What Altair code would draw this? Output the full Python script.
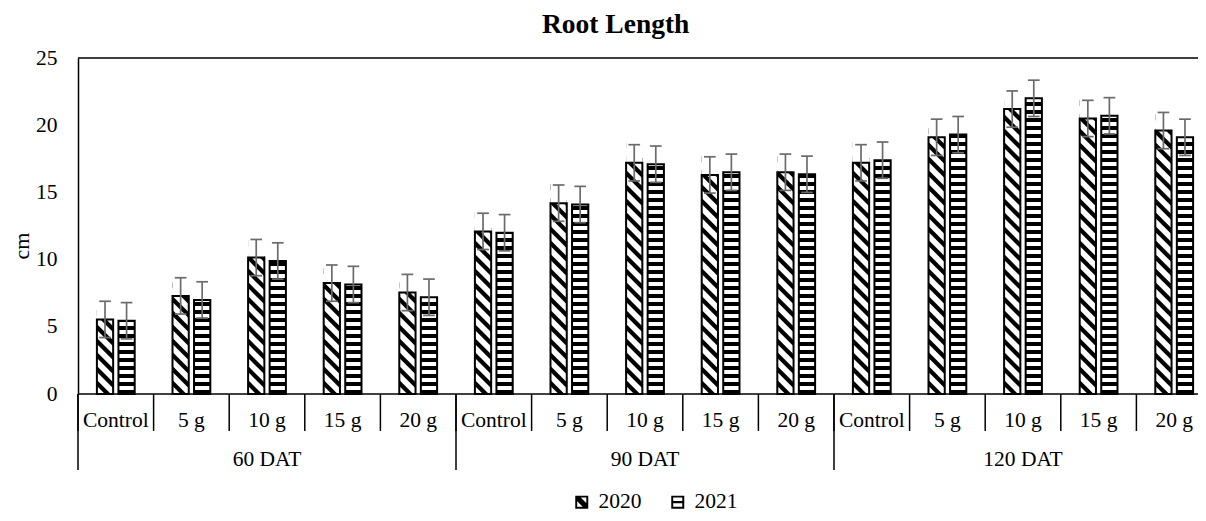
import altair as alt
import pandas as pd

# ---------------- data ----------------
periods = ["60 DAT", "90 DAT", "120 DAT"]
treatments = ["Control", "5 g", "10 g", "15 g", "20 g"]
years = ["2020", "2021"]
root_2020 = [5.55, 7.3, 10.15, 8.25, 7.55, 12.1, 14.2, 17.2, 16.3, 16.5, 17.2, 19.1, 21.2, 20.5, 19.6]
root_2021 = [5.45, 7.0, 9.9, 8.15, 7.2, 12.0, 14.1, 17.1, 16.5, 16.35, 17.4, 19.3, 22.0, 20.7, 19.1]
err_2020 = [1.35, 1.35, 1.35, 1.35, 1.35, 1.35, 1.35, 1.35, 1.35, 1.35, 1.35, 1.35, 1.35, 1.35, 1.35]
err_2021 = [1.35, 1.35, 1.35, 1.35, 1.35, 1.35, 1.35, 1.35, 1.35, 1.35, 1.35, 1.35, 1.35, 1.35, 1.35]
y_ticks = [0, 5, 10, 15, 20, 25]
chart_title = "Root Length"
y_title = "cm"

rows = []
for p_i, p in enumerate(periods):
    for t_i, t in enumerate(treatments):
        g = p_i * len(treatments) + t_i
        for yr, vals, errs in ((years[0], root_2020, err_2020), (years[1], root_2021, err_2021)):
            rows.append(dict(idx=g, period=p, treatment=t, year=yr, value=vals[g], err=errs[g]))
df = pd.DataFrame(rows)

# ---------------- layout / style ----------------
FONT = "Liberation Serif"
W, H = 1120, 336          # visible plot area (the last group runs to the page edge)
SX = 75.6                 # pixels per category group
XMAX = W / SX
YMAX = y_ticks[-1]
SY = H / YMAX
BAR_W = 0.215
OFF_A, OFF_B = 0.25, 0.535
H_PER, H_TH = 8 / SY, 4 / SY
D_PER, D_TH = 14 / SY, 6 / SY
D_DROP = BAR_W * SX / SY
CAP = 5.85 / SX
EC = "#6b6b6b"

xscale = alt.Scale(domain=[0, XMAX], nice=False, zero=False)
yscale = alt.Scale(domain=[0, YMAX], nice=False)
yaxis = alt.Axis(values=y_ticks, title=None, ticks=False, domain=True, domainColor="black",
                 domainWidth=1.5, grid=False,
                 labelFont=FONT, labelFontSize=21.5, labelColor="black", labelPadding=21)


def X(f):
    return alt.X(f"{f}:Q", scale=xscale, axis=None)


def Y(f):
    return alt.Y(f"{f}:Q", scale=yscale, axis=yaxis)


base = (
    alt.Chart(df)
    .transform_calculate(xa=f"datum.idx + (datum.year == '{years[0]}' ? {OFF_A} : {OFF_B})")
    .transform_calculate(xb=f"datum.xa + {BAR_W}")
    .transform_calculate(xc=f"datum.xa + {BAR_W / 2}")
    .transform_calculate(zero="0")
)

# horizontal stripes (2021)
hstripes = (
    base.transform_filter(f"datum.year == '{years[1]}'")
    .transform_calculate(ss=f"sequence(0, datum.value, {H_PER})")
    .transform_flatten(["ss"], as_=["s"])
    .transform_calculate(s2=f"min(datum.s + {H_TH}, datum.value)")
    .mark_rect(color="black")
    .encode(x=X("xa"), x2="xb:Q", y=Y("s"), y2="s2:Q")
)

# diagonal stripes (2020)
dstripes = (
    base.transform_filter(f"datum.year == '{years[0]}'")
    .transform_calculate(tops=f"sequence(0, datum.value + {D_DROP + D_TH}, {D_PER})")
    .transform_flatten(["tops"], as_=["top"])
    .transform_calculate(ends="[0, 1]")
    .transform_flatten(["ends"], as_=["end"])
    .transform_calculate(px="datum.end == 0 ? datum.xa : datum.xb")
    .transform_calculate(py=f"datum.top - datum.end * {D_DROP}")
    .transform_calculate(py2=f"datum.py - {D_TH}")
    .transform_calculate(sid="datum.idx + '_' + datum.top")
    .mark_area(color="black", clip=True, orient="vertical")
    .encode(x=X("px"), y=Y("py"), y2="py2:Q", detail="sid:N")
)

cover = (
    base.transform_filter(f"datum.year == '{years[0]}'")
    .transform_calculate(ctop=f"datum.value + {D_DROP + D_TH + 0.05}")
    .mark_rect(color="white")
    .encode(x=X("xa"), x2="xb:Q", y=Y("value"), y2="ctop:Q")
)

outline = (
    base.mark_rect(fill="transparent", stroke="black", strokeWidth=2)
    .encode(x=X("xa"), x2="xb:Q", y=Y("value"), y2="zero:Q")
)

ebar = (
    base.transform_calculate(lo="datum.value - datum.err", hi="datum.value + datum.err")
    .mark_rule(color=EC, strokeWidth=1.7)
    .encode(x=X("xc"), y=Y("lo"), y2="hi:Q")
)

caps = (
    base.transform_calculate(lo="datum.value - datum.err", hi="datum.value + datum.err")
    .transform_fold(["lo", "hi"], as_=["kind", "cy"])
    .transform_calculate(cx0=f"datum.xc - {CAP}", cx1=f"datum.xc + {CAP}")
    .mark_rule(color=EC, strokeWidth=1.7)
    .encode(x=X("cx0"), x2="cx1:Q", y=Y("cy"))
)

# frame lines (bottom = x axis line, top = plot border)
frame = (
    alt.Chart(pd.DataFrame({"v": [y_ticks[0], y_ticks[-1]]}))
    .mark_rule(color="black", strokeWidth=1.5)
    .encode(y=Y("v"))
)

first = base.transform_filter(f"datum.year == '{years[0]}'")
starts = base.transform_filter(f"datum.year == '{years[0]}' && datum.treatment == '{treatments[0]}'")

div_short = first.mark_rule(color="black", strokeWidth=1.5).encode(
    x=X("idx"), y=alt.value(H), y2=alt.value(H + 37))
div_long = starts.mark_rule(color="black", strokeWidth=1.5).encode(
    x=X("idx"), y=alt.value(H), y2=alt.value(H + 76))

lab_t = (
    first.transform_calculate(lx="datum.idx + 0.5")
    .mark_text(font=FONT, fontSize=21.5, color="black", baseline="alphabetic", align="center")
    .encode(x=X("lx"), y=alt.value(H + 33), text="treatment:N")
)
lab_p = (
    starts.transform_calculate(lx=f"datum.idx + {len(treatments) / 2}")
    .mark_text(font=FONT, fontSize=21.5, color="black", baseline="alphabetic", align="center")
    .encode(x=X("lx"), y=alt.value(H + 72), text="period:N")
)

title_t = (
    alt.Chart(pd.DataFrame({"t": [chart_title]}))
    .mark_text(font=FONT, fontSize=27.5, fontWeight="bold", color="black",
               baseline="alphabetic", align="center")
    .encode(text="t:N", x=alt.value(537.7), y=alt.value(-25))
)
ytitle_t = (
    alt.Chart(pd.DataFrame({"t": [y_title]}))
    .mark_text(font=FONT, fontSize=22, color="black", baseline="alphabetic", align="center", angle=270)
    .encode(text="t:N", x=alt.value(-49), y=alt.value(188))
)

P2020 = ("M-1,-1H1V1H-1Z M-0.7,-0.7V0.7H0.7V-0.7Z "
         "M-0.7,-0.7H-0.15L0.7,0.15V0.7H0.15L-0.7,-0.15Z")
P2021 = ("M-1,-1H1V1H-1Z M-0.7,-0.7V0.7H0.7V-0.7Z "
         "M-0.7,-0.17H0.7V0.17H-0.7Z")

legend_layer = (
    alt.Chart(df)
    .transform_filter("false")
    .mark_point(filled=True, color="black", size=169, opacity=1)
    .encode(shape=alt.Shape(
        "year:N",
        scale=alt.Scale(domain=years, range=[P2020, P2021]),
        legend=alt.Legend(title=None, orient="none", legendX=493, legendY=433,
                          direction="horizontal", labelFont=FONT, labelFontSize=21.5,
                          labelColor="black", symbolSize=169, symbolStrokeWidth=0,
                          symbolFillColor="black", symbolOpacity=1, labelOffset=6,
                          columnPadding=25, padding=0),
    ))
)

chart = (
    alt.layer(hstripes, dstripes, cover, outline, ebar, caps, frame, div_short, div_long,
              lab_t, lab_p, title_t, ytitle_t, legend_layer)
    .properties(width=W, height=H,
                autosize=alt.AutoSizeParams(type="none"),
                padding={"left": 70, "top": 50, "right": 0, "bottom": 119},
                background="white")
    .configure_view(stroke="transparent", strokeWidth=0)
)

chart.save("out.html", embed_options={"renderer": "svg", "actions": False})
